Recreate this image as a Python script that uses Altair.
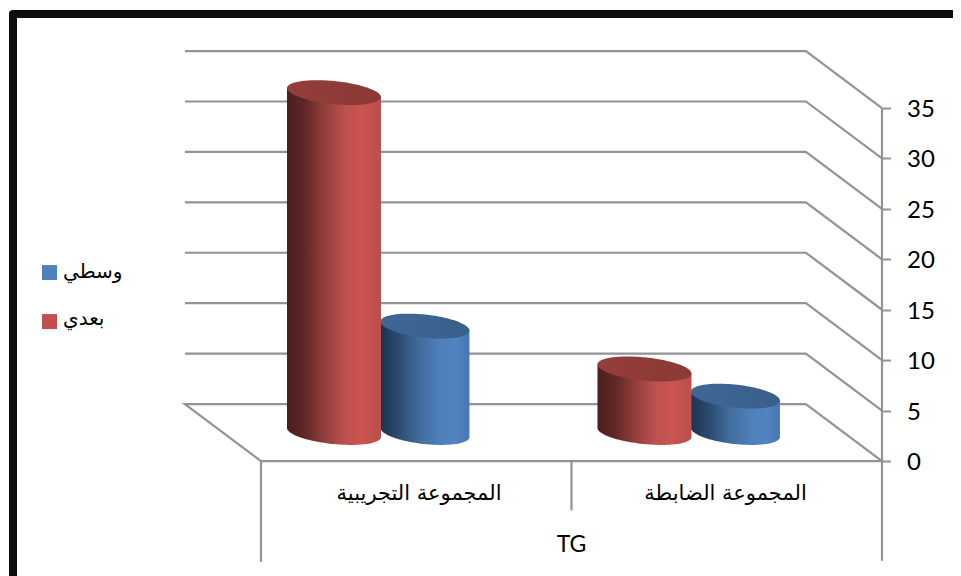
import math
import altair as alt
import pandas as pd

# ---- chart values
categories = ["المجموعة التجريبية", "المجموعة الضابطة"]
series_names = ["وسطي", "بعدي"]
series_wasati = [10.55, 3.6]
series_baadi = [33.7, 6.3]
tick_values = [0, 5, 10, 15, 20, 25, 30, 35]
group_title = "TG"

# ---- layout, in category units (x) and value units (y)
W, H = 945, 568
X_DOM = [-0.8148, 2.2287]
Y_DOM = [-11.40, 44.92]
DX, DY = -0.245, 5.65          # depth of the floor
BASE = 2.83                    # floor position of cylinder centres
P, B = 0.45, 1.15              # shear and minor radius of the ellipses
GRAY = "#939393"
FONT_NUM = "Lato"
FONT_AR = "DejaVu Sans"

xs = alt.Scale(domain=X_DOM, nice=False, zero=False)
ys = alt.Scale(domain=Y_DOM, nice=False, zero=False)
XQ = alt.X("x:Q", scale=xs, axis=None)
YQ = alt.Y("y:Q", scale=ys, axis=None)


def grad(stops):
    return alt.Gradient(
        gradient="linear", x1=0, x2=1, y1=0, y2=0,
        stops=[alt.GradientStop(offset=o, color=c) for o, c in stops],
    )


RED_BODY = grad([(0, "#4c1e1d"), (0.18, "#5e2726"), (0.42, "#96403d"),
                 (0.62, "#bd524f"), (0.8, "#cb5450"), (1, "#b94f4b")])
BLUE_BODY = grad([(0, "#1d3350"), (0.2, "#2c4a70"), (0.45, "#426e9f"),
                  (0.68, "#4f80bb"), (0.85, "#5084c2"), (1, "#4877b0")])
RED_TOP = grad([(0, "#953e3b"), (1, "#8a3936")])
BLUE_TOP = grad([(0, "#3f6796"), (1, "#3a5f8b")])

# ---- wall and floor lines
lines = []
for v in tick_values:
    if v == 0:
        continue
    for k, (x, y) in enumerate([(DX, v + DY), (2 + DX, v + DY), (2, v)]):
        lines.append({"g": f"w{v}", "k": k, "x": x, "y": y})
for k, (x, y) in enumerate([(2 + DX, DY), (DX, DY), (0, 0), (2, 0), (2 + DX, DY)]):
    lines.append({"g": "floor", "k": k, "x": x, "y": y})
for k, (x, y) in enumerate([(2, 35), (2, -9.9)]):
    lines.append({"g": "axis", "k": k, "x": x, "y": y})
for k, (x, y) in enumerate([(0, 0), (0, -10.0)]):
    lines.append({"g": "left", "k": k, "x": x, "y": y})
for k, (x, y) in enumerate([(1, 0), (1, -4.9)]):
    lines.append({"g": "mid", "k": k, "x": x, "y": y})

line_layer = alt.Chart(pd.DataFrame(lines)).mark_line(
    color=GRAY, strokeWidth=2.2, clip=False
).encode(x=XQ, y=YQ, detail="g:N", order="k:Q")

# ---- frame
frame = alt.Chart(pd.DataFrame([
    {"k": 0, "x": -0.7987, "y": Y_DOM[0]},
    {"k": 1, "x": -0.7987, "y": 44.32},
    {"k": 2, "x": X_DOM[1], "y": 44.32},
])).mark_line(color="#0d0d0d", strokeWidth=8, strokeJoin="round").encode(
    x=XQ, y=YQ, order="k:Q"
)


# ---- cylinders
def cylinder(cx, half, value, body, top):
    ts = [math.pi * i / 72 for i in range(73)]
    top_v = BASE + value
    bd = pd.DataFrame([
        {"x": cx + half * math.cos(t),
         "y": top_v - P * math.cos(t),
         "y2": BASE - P * math.cos(t) - B * math.sin(t)} for t in ts
    ])
    td = pd.DataFrame([
        {"x": cx + half * math.cos(t),
         "y": top_v - P * math.cos(t) + B * math.sin(t),
         "y2": top_v - P * math.cos(t) - B * math.sin(t)} for t in ts
    ])
    enc = dict(x=XQ, y=YQ, y2="y2:Q")
    return [
        alt.Chart(bd).mark_area(fill=body, stroke=None, interpolate="linear").encode(**enc),
        alt.Chart(td).mark_area(fill=top, stroke=None, interpolate="linear").encode(**enc),
    ]


cyl_layers = []
for i in range(len(categories)):
    cyl_layers += cylinder(i + 0.5280, 0.1433, series_wasati[i], BLUE_BODY, BLUE_TOP)
    cyl_layers += cylinder(i + 0.2351, 0.1514, series_baadi[i], RED_BODY, RED_TOP)

# ---- y axis (real axis, placed at the front corner)
axis_layer = alt.Chart(pd.DataFrame({"y": tick_values})).mark_point(opacity=0).encode(
    y=alt.Y("y:Q", scale=ys, axis=alt.Axis(
        orient="right", offset=-70.5, values=tick_values, domain=False, grid=False,
        tickColor=GRAY, tickWidth=2, tickSize=8, labelFont=FONT_NUM, labelFontSize=24,
        labelColor="#000000", labelPadding=16, title=None, labelFlush=False,
        labelOverlap=False, labelOffset=1.5,
    )),
)

# ---- texts
cat_text = alt.Chart(pd.DataFrame({
    "x": [0.509, 1.496], "y": [-3.25, -3.25], "t": categories,
})).mark_text(font=FONT_AR, fontSize=21, color="#000000", baseline="middle").encode(
    x=XQ, y=YQ, text="t:N"
)
title_text = alt.Chart(pd.DataFrame({"x": [1.0], "y": [-8.3], "t": [group_title]})).mark_text(
    font=FONT_NUM, fontSize=23, color="#000000", baseline="middle"
).encode(x=XQ, y=YQ, text="t:N")

legend_x = -0.6812
legend_text_x = -0.6377
legend_y = [18.69, 13.83]
legend_text_y = [18.75, 14.1]
legend_colors = ["#4f81bd", "#c0504d"]
swatches = alt.Chart(pd.DataFrame({
    "x": [legend_x] * 2, "y": legend_y, "c": legend_colors,
})).mark_point(shape="square", size=225, filled=True, opacity=1, stroke=None).encode(
    x=XQ, y=YQ, color=alt.Color("c:N", scale=None, legend=None)
)
legend_text = alt.Chart(pd.DataFrame({
    "x": [legend_text_x] * 2, "y": legend_text_y, "t": series_names,
})).mark_text(font=FONT_AR, fontSize=20, color="#000000", align="left", baseline="middle").encode(
    x=XQ, y=YQ, text="t:N"
)

chart = alt.layer(
    line_layer, *cyl_layers, axis_layer, cat_text, title_text, swatches, legend_text, frame
).resolve_scale(x="shared", y="shared").resolve_axis(y="independent").properties(
    width=W, height=H, padding=0, autosize=alt.AutoSizeParams(type="none"),
    background="#ffffff",
).configure_view(stroke=None)

chart.save("out.html", embed_options={"renderer": "svg", "actions": False})
